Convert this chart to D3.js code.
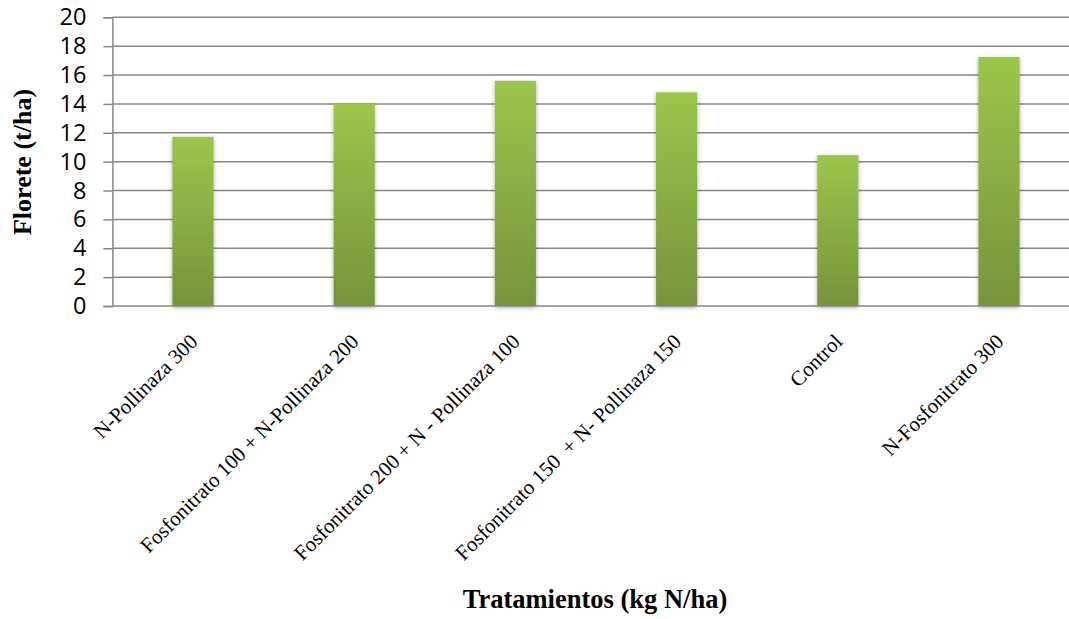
<!DOCTYPE html>
<html>
<head>
<meta charset="utf-8">
<script src="https://cdn.jsdelivr.net/npm/d3@7"></script>
<style>
  html, body { margin: 0; padding: 0; background: #fff; }
  svg { display: block; }
</style>
</head>
<body>
<svg id="chart" width="1069" height="619"></svg>
<script>
// Florete yield per fertilisation treatment
const categories = [
  "N-Pollinaza 300",
  "Fosfonitrato 100 + N-Pollinaza 200",
  "Fosfonitrato 200 + N - Pollinaza 100",
  "Fosfonitrato 150  + N- Pollinaza 150",
  "Control",
  "N-Fosfonitrato 300"
];
const florete = [11.72, 14.0, 15.6, 14.8, 10.45, 17.25];
const yTicks = [0, 2, 4, 6, 8, 10, 12, 14, 16, 18, 20];
const yTitle = "Florete (t/ha)";
const xTitle = "Tratamientos (kg N/ha)";

const svg = d3.select("#chart");
const plot = { left: 112.4, right: 1079.6, top: 17.3, bottom: 306 };

const x = d3.scaleBand()
  .domain(categories)
  .range([plot.left, plot.right])
  .paddingInner(0.745)
  .paddingOuter(0.745 / 2);

const y = d3.scaleLinear()
  .domain([0, 20])
  .range([plot.bottom, plot.top]);

const defs = svg.append("defs");
const grad = defs.append("linearGradient")
  .attr("id", "barFill")
  .attr("x1", 0).attr("y1", 0).attr("x2", 0).attr("y2", 1);
grad.append("stop").attr("offset", "0%").attr("stop-color", "#9cc64c");
grad.append("stop").attr("offset", "100%").attr("stop-color", "#76933b");

const shadow = defs.append("filter")
  .attr("id", "barShadow")
  .attr("x", "-30%").attr("y", "-10%").attr("width", "160%").attr("height", "120%");
shadow.append("feDropShadow")
  .attr("dx", 0).attr("dy", 1.5)
  .attr("stdDeviation", 2.2)
  .attr("flood-color", "#000")
  .attr("flood-opacity", 0.35);

// horizontal gridlines
svg.append("g")
  .selectAll("line")
  .data(yTicks.filter(d => d > 0))
  .join("line")
  .attr("x1", plot.left).attr("x2", plot.right)
  .attr("y1", d => y(d)).attr("y2", d => y(d))
  .attr("stroke", "#878787")
  .attr("stroke-width", 1.5);

// y axis with outward ticks
const yAxis = svg.append("g")
  .attr("transform", `translate(${plot.left},0)`)
  .call(d3.axisLeft(y).tickValues(yTicks).tickSize(9).tickPadding(17).tickFormat(d3.format("d")));
yAxis.select(".domain").attr("stroke", "#878787").attr("stroke-width", 1.5);
yAxis.selectAll(".tick line").attr("stroke", "#878787").attr("stroke-width", 1.5);
yAxis.selectAll(".tick text")
  .attr("font-family", "'Open Sans', sans-serif")
  .attr("font-size", 23.5)
  .attr("fill", "#000");

// bars
svg.append("g")
  .selectAll("rect")
  .data(florete)
  .join("rect")
  .attr("x", (d, i) => x(categories[i]))
  .attr("y", d => y(d))
  .attr("width", x.bandwidth())
  .attr("height", d => y(0) - y(d))
  .attr("fill", "url(#barFill)")
  .attr("filter", "url(#barShadow)");

// x baseline
svg.append("line")
  .attr("x1", plot.left).attr("x2", plot.right)
  .attr("y1", y(0)).attr("y2", y(0))
  .attr("stroke", "#878787")
  .attr("stroke-width", 1.5);

// rotated category labels
svg.append("g")
  .selectAll("text")
  .data(categories)
  .join("text")
  .attr("transform", d => `translate(${x(d) + x.bandwidth() / 2 - 4},333) rotate(-45)`)
  .attr("text-anchor", "end")
  .attr("dy", "0.66em")
  .attr("font-family", "'Liberation Serif', 'Times New Roman', serif")
  .attr("font-size", 21)
  .style("white-space", "pre")
  .attr("fill", "#000")
  .text(d => d);

// axis titles
svg.append("text")
  .attr("transform", "translate(31,162) rotate(-90)")
  .attr("text-anchor", "middle")
  .attr("font-family", "'Liberation Serif', 'Times New Roman', serif")
  .attr("font-weight", "bold")
  .attr("font-size", 26)
  .attr("fill", "#000")
  .text(yTitle);

svg.append("text")
  .attr("x", 595)
  .attr("y", 608)
  .attr("text-anchor", "middle")
  .attr("font-family", "'Liberation Serif', 'Times New Roman', serif")
  .attr("font-weight", "bold")
  .attr("font-size", 26.5)
  .attr("fill", "#000")
  .text(xTitle);
</script>
</body>
</html>
